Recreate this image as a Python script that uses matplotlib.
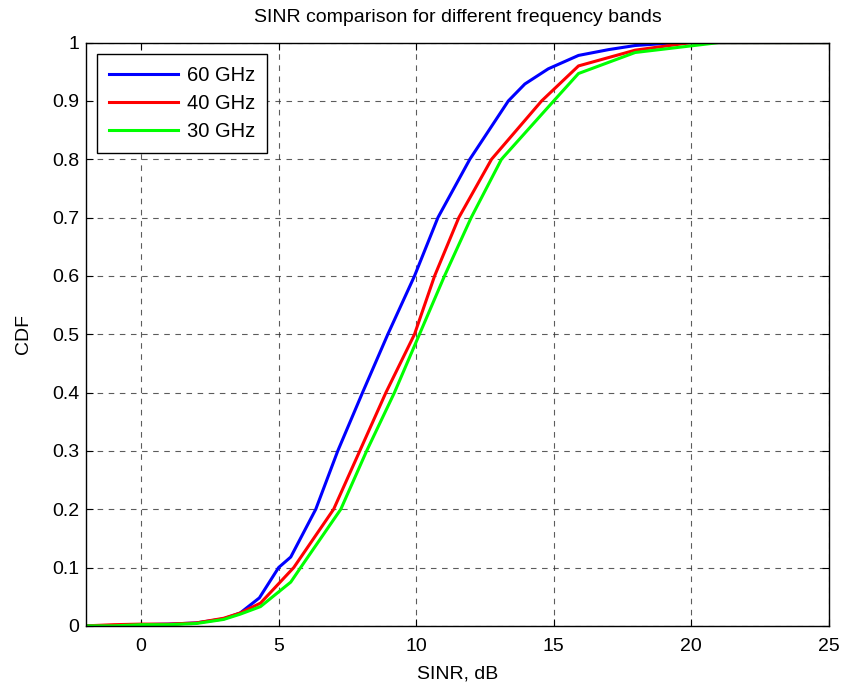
import matplotlib
matplotlib.use('Agg')
from matplotlib import pyplot as plt

plt.rcParams['font.family'] = ['Liberation Sans', 'DejaVu Sans']

# data (SINR dB, CDF)
x_60 = [-2, -1, 0, 1, 2, 3, 3.6, 4.3, 5.0, 5.44, 6.35, 7.15, 8.05, 8.97, 9.94,
        10.79, 11.95, 13.35, 13.95, 14.8, 15.9, 17.0, 17.96, 19.5, 25]
y_60 = [0, 0, 0.002, 0.003, 0.005, 0.012, 0.022, 0.048, 0.10, 0.118, 0.2, 0.3,
        0.4, 0.5, 0.6, 0.7, 0.8, 0.9, 0.929, 0.955, 0.978, 0.988, 0.995, 1.0, 1.0]

x_40 = [-2, -1, 0, 1, 2, 3, 3.6, 4.34, 5.55, 7.0, 7.95, 8.9, 9.94, 10.67, 11.55,
        12.74, 14.56, 15.9, 17.96, 20.0, 25]
y_40 = [0, 0.002, 0.003, 0.003, 0.005, 0.013, 0.022, 0.039, 0.1, 0.2, 0.3, 0.4,
        0.5, 0.6, 0.7, 0.8, 0.9, 0.96, 0.987, 1.0, 1.0]

x_30 = [-2, -1, 0, 1, 2, 3, 3.6, 4.34, 5.44, 5.8, 7.26, 8.2, 9.21, 10.12, 11.03,
        12.0, 13.1, 15.0, 15.9, 17.96, 21.0, 25]
y_30 = [0, 0, 0.002, 0.002, 0.004, 0.011, 0.02, 0.033, 0.075, 0.1, 0.2, 0.3,
        0.4, 0.5, 0.6, 0.7, 0.8, 0.9, 0.947, 0.983, 1.0, 1.0]

labels = ['60 GHz', '40 GHz', '30 GHz']
colors = ['#0000ff', '#ff0000', '#00ff00']

fig = plt.figure(figsize=(8.44, 6.87), dpi=100)
ax = fig.add_axes([0.102, 0.089, 0.88, 0.849])

for xs, ys, lab, c in zip([x_60, x_40, x_30], [y_60, y_40, y_30], labels, colors):
    ax.plot(xs, ys, color=c, lw=2.2, label=lab)

ax.set_xlim(-2, 25)
ax.set_ylim(0, 1)
ax.set_xticks([0, 5, 10, 15, 20, 25])
ax.set_yticks([i / 10 for i in range(11)])
ax.set_yticklabels(['0', '0.1', '0.2', '0.3', '0.4', '0.5', '0.6', '0.7', '0.8', '0.9', '1'])
ax.grid(True, color='#333333', linestyle=(0, (5, 5)), linewidth=0.8, alpha=0.8)
ax.tick_params(direction='in', top=True, right=True, labelsize=14, length=5)
ax.tick_params(axis='x', pad=9)
ax.tick_params(axis='y', pad=5)
for s in ax.spines.values():
    s.set_linewidth(1.0)

ax.set_xlabel('SINR, dB', fontsize=14, labelpad=7)
ax.set_ylabel('CDF', fontsize=14, labelpad=14)
ax.set_title('SINR comparison for different frequency bands', fontsize=14, pad=15)

leg = ax.legend(loc='upper left', bbox_to_anchor=(0.0148, 0.981), fontsize=14.5,
                handlelength=3.4, handletextpad=0.45, borderpad=0.6,
                fancybox=False, edgecolor='black', framealpha=1,
                borderaxespad=0, labelspacing=0.45)
leg.get_frame().set_linewidth(1.0)

fig.savefig('out.png', dpi=100)
